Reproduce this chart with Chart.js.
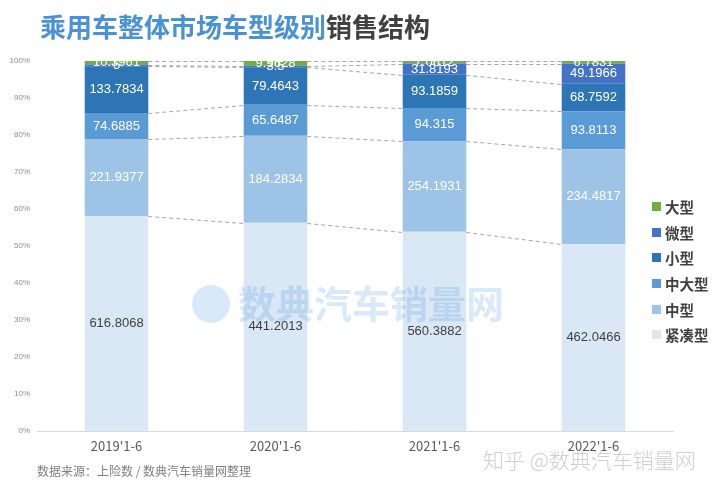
<!DOCTYPE html>
<html>
<head>
<meta charset="utf-8">
<script src="https://cdn.jsdelivr.net/npm/chart.js@4/dist/chart.umd.min.js"></script>
<style>
  html, body { margin: 0; padding: 0; background: #fff; }
  #wrap { position: relative; width: 720px; height: 487px; overflow: hidden; font-family: "Noto Sans CJK SC", "Liberation Sans", sans-serif; }
  #c { position: absolute; left: 0; top: 0; }
  .title { position: absolute; left: 40px; top: 8px; font-size: 26px; font-weight: bold; letter-spacing: 0px; white-space: nowrap; line-height: 36px; }
  .title .b { color: #4a92d6; }
  .title .d { color: #404040; }
  .legend { position: absolute; left: 652px; top: 194px; }
  .legend .it { height: 25.6px; display: flex; align-items: center; font-size: 14.5px; font-weight: bold; color: #404040; }
  .legend .sw { width: 9px; height: 9px; margin-right: 4px; }
  .foot { position: absolute; left: 37px; top: 462px; font-size: 12px; color: #7f7f7f; white-space: nowrap; }
  .zh { position: absolute; left: 483px; top: 444px; font-size: 21px; color: #cfcfcf; white-space: nowrap; font-weight: 300; }
</style>
</head>
<body>
<div id="wrap">
  <canvas id="c" width="720" height="487"></canvas>
  <div class="title"><span class="b">乘用车整体市场车型级别</span><span class="d">销售结构</span></div>
  <div class="legend" id="legend"></div>
  <div class="foot">数据来源：上险数 / 数典汽车销量网整理</div>
  <div class="zh">知乎 @数典汽车销量网</div>
</div>
<script>
const categories = ["2019'1-6", "2020'1-6", "2021'1-6", "2022'1-6"];
const seriesNames = ["紧凑型", "中型", "中大型", "小型", "微型", "大型"];
const compactVals = [616.8068, 441.2013, 560.3882, 462.0466];
const midVals = [221.9377, 184.2834, 254.1931, 234.4817];
const midLargeVals = [74.6885, 65.6487, 94.315, 93.8113];
const smallVals = [133.7834, 79.4643, 93.1859, 68.7592];
const miniVals = [5.0, 3.5, 31.8193, 49.1966];
const largeVals = [10.3961, 9.9628, 7.0612, 6.7831];
const yTicks = [0, 10, 20, 30, 40, 50, 60, 70, 80, 90, 100];

const seriesVals = [compactVals, midVals, midLargeVals, smallVals, miniVals, largeVals];
const colors = ["#dae7f4", "#9dc3e6", "#5b9bd5", "#2e75b6", "#4472c4", "#70ad47"];
const labelColors = ["#404040", "#ffffff", "#ffffff", "#ffffff", "#ffffff", "#ffffff"];

const totals = categories.map((_, j) => seriesVals.reduce((s, arr) => s + arr[j], 0));
const datasets = seriesNames.map((name, i) => ({
  label: name,
  data: seriesVals[i].map((v, j) => v / totals[j] * 100),
  raw: seriesVals[i],
  backgroundColor: colors[i],
  borderWidth: 0,
  barPercentage: 0.4,
  categoryPercentage: 1.0
}));

// legend (reverse order)
const lg = document.getElementById('legend');
for (let i = seriesNames.length - 1; i >= 0; i--) {
  const d = document.createElement('div');
  d.className = 'it';
  d.innerHTML = '<span class="sw" style="background:' + colors[i] + '"></span>' + seriesNames[i];
  lg.appendChild(d);
}

const connectors = {
  id: 'connectors',
  afterDatasetsDraw(chart) {
    const ctx = chart.ctx;
    ctx.save();
    ctx.strokeStyle = '#a6a6a6';
    ctx.lineWidth = 1;
    ctx.setLineDash([4, 3]);
    chart.data.datasets.forEach((ds, i) => {
      const meta = chart.getDatasetMeta(i);
      for (let j = 0; j < meta.data.length - 1; j++) {
        const a = meta.data[j], b = meta.data[j + 1];
        ctx.beginPath();
        ctx.moveTo(a.x + a.width / 2, Math.round(a.y) + 0.5);
        ctx.lineTo(b.x - b.width / 2, Math.round(b.y) + 0.5);
        ctx.stroke();
      }
    });
    ctx.restore();
  }
};

const labelsPlugin = {
  id: 'vlabels',
  afterDatasetsDraw(chart) {
    const ctx = chart.ctx;
    ctx.save();
    ctx.font = '13px "Liberation Sans", Arial, sans-serif';
    ctx.textAlign = 'center';
    ctx.textBaseline = 'middle';
    chart.data.datasets.forEach((ds, i) => {
      const meta = chart.getDatasetMeta(i);
      meta.data.forEach((el, j) => {
        const yc = (el.y + el.base) / 2;
        ctx.fillStyle = labelColors[i];
        ctx.fillText(String(ds.raw[j]), el.x, yc);
      });
    });
    ctx.restore();
  }
};

const watermark = {
  id: 'wm',
  afterDraw(chart) {
    const ctx = chart.ctx;
    ctx.save();
    ctx.globalAlpha = 0.2;
    ctx.fillStyle = '#3d8fe0';
    ctx.beginPath();
    ctx.arc(211, 304, 19, 0, Math.PI * 2);
    ctx.fill();
    ctx.font = 'bold 38px "Noto Sans CJK SC", sans-serif';
    ctx.textBaseline = 'middle';
    ctx.textAlign = 'left';
    ctx.fillText('数典汽车销量网', 238, 304);
    ctx.restore();
  }
};

new Chart(document.getElementById('c'), {
  type: 'bar',
  data: { labels: categories, datasets },
  options: {
    responsive: false,
    animation: false,
    layout: { padding: { left: 0, right: 47, top: 61, bottom: 0 } },
    plugins: { legend: { display: false }, tooltip: { enabled: false } },
    scales: {
      x: {
        stacked: true,
        grid: { display: false, drawTicks: false },
        border: { display: true, color: '#d9d9d9', width: 1 },
        ticks: { color: '#595959', font: { size: 13, family: '"Noto Sans CJK SC", "Liberation Sans", sans-serif' }, padding: 7, maxRotation: 0 },
        afterFit(s) { s.height = 56; }
      },
      y: {
        stacked: true,
        min: 0, max: 100,
        afterBuildTicks(s) { s.ticks = yTicks.map(v => ({ value: v })); },
        grid: { display: false, drawTicks: false },
        border: { display: false },
        ticks: { color: '#8c8c8c', font: { size: 8, family: '"Liberation Sans", sans-serif' }, padding: 7, callback: v => v + '%' },
        afterFit(s) { s.width = 37; }
      }
    }
  },
  plugins: [connectors, labelsPlugin, watermark]
});
</script>
</body>
</html>
